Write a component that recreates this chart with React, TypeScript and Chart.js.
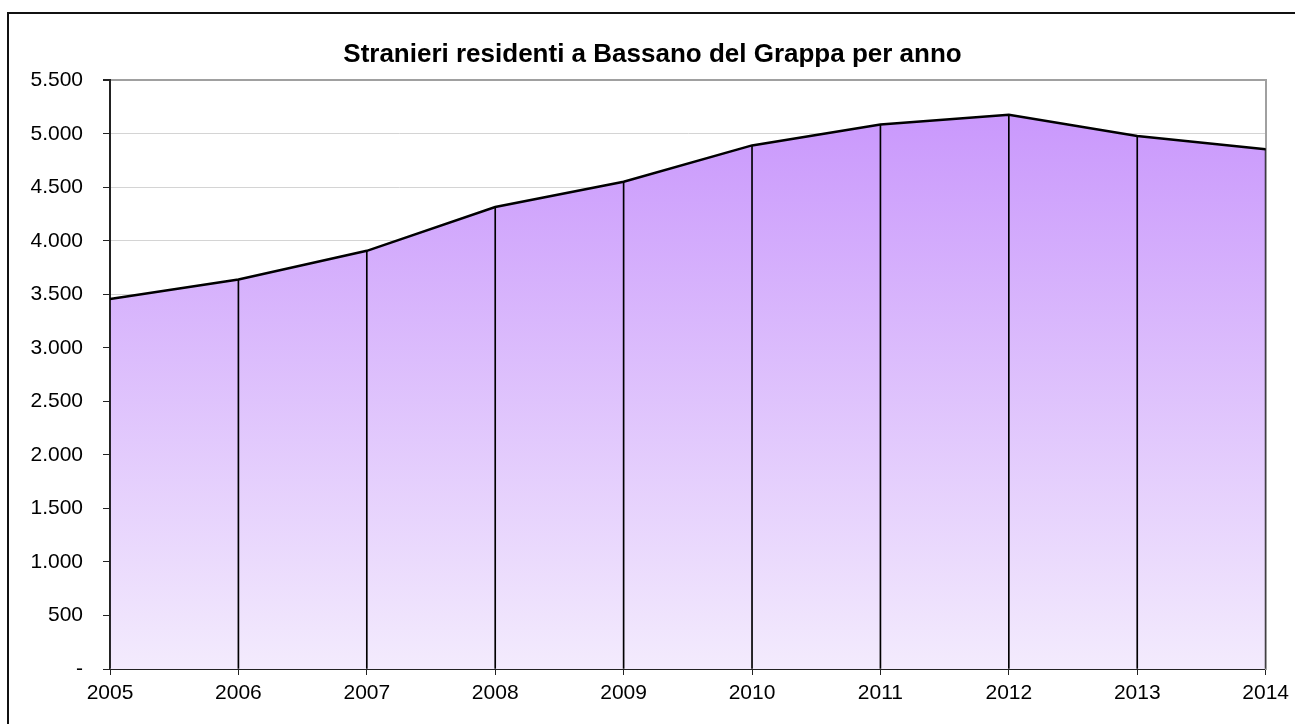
import React, { useEffect, useRef } from "react";
import { Chart, registerables } from "chart.js";

Chart.register(...registerables);

const years = ["2005", "2006", "2007", "2008", "2009", "2010", "2011", "2012", "2013", "2014"];
const residents = [3456, 3639, 3906, 4316, 4552, 4891, 5087, 5177, 4978, 4854];
const chartTitle = "Stranieri residenti a Bassano del Grappa per anno";
const yMax = 5500;
const yStep = 500;

function formatTick(v: number): string {
  if (v === 0) return "-";
  return Math.round(v).toString().replace(/\B(?=(\d{3})+(?!\d))/g, ".");
}

export default function App() {
  const ref = useRef<HTMLCanvasElement | null>(null);

  useEffect(() => {
    if (!ref.current) return;
    const font = "'Liberation Sans', Arial, sans-serif";
    const chart = new Chart(ref.current, {
      type: "line",
      data: {
        labels: years,
        datasets: [
          {
            type: "line",
            data: residents,
            borderColor: "#000000",
            borderWidth: 2.5,
            pointRadius: 0,
            tension: 0,
            order: 0,
            fill: "origin",
            backgroundColor: (ctx: any) => {
              const area = ctx.chart.chartArea;
              if (!area) return "#d4aaff";
              const g = ctx.chart.ctx.createLinearGradient(0, area.top, 0, area.bottom);
              g.addColorStop(0, "#c793fc");
              g.addColorStop(1, "#f3ebfd");
              return g;
            },
          },
          {
            type: "bar",
            data: residents,
            backgroundColor: "#000000",
            barThickness: 1,
            order: 1,
          } as any,
        ],
      },
      options: {
        animation: false,
        responsive: false,
        layout: { padding: { left: 10, right: 0, top: 0, bottom: 0 } },
        plugins: {
          legend: { display: false },
          tooltip: { enabled: false },
          filler: { drawTime: "beforeDatasetsDraw" } as any,
          title: {
            display: true,
            text: chartTitle,
            color: "#000000",
            font: { family: font, size: 26, weight: "bold" },
            padding: { top: 39, bottom: 10 },
          },
        },
        scales: {
          x: {
            type: "category",
            offset: false,
            grid: {
              display: true,
              offset: false,
              drawOnChartArea: false,
              drawTicks: true,
              tickLength: 6,
              tickColor: "#222222",
            },
            border: { display: true, color: "#222222", width: 2 },
            ticks: {
              color: "#000000",
              font: { family: font, size: 21 },
              padding: 6,
              maxRotation: 0,
              autoSkip: false,
            },
            afterFit: (s: any) => {
              s.height = 55;
            },
          },
          y: {
            min: 0,
            max: yMax,
            position: "left",
            grid: {
              color: (c: any) => (c.tick && c.tick.value === yMax ? "#a0a0a0" : "#d4d4d4"),
              lineWidth: (c: any) => (c.tick && c.tick.value === yMax ? 2 : 1),
              tickLength: 7,
              tickColor: "#222222",
            },
            border: { display: true, color: "#222222", width: 2 },
            ticks: {
              stepSize: yStep,
              color: "#000000",
              font: { family: font, size: 21 },
              padding: 20,
              callback: (v: any) => formatTick(Number(v)),
            },
            afterFit: (s: any) => {
              s.width = 100;
            },
          },
          y2: {
            min: 0,
            max: yMax,
            position: "right",
            grid: { drawOnChartArea: false, drawTicks: false },
            border: { display: true, color: "#a0a0a0", width: 2 },
            ticks: { display: false },
            afterFit: (s: any) => {
              s.width = 28;
            },
          },
        },
      },
    });
    return () => chart.destroy();
  }, []);

  return (
    <div style={{ position: "absolute", left: 0, top: 0, width: 1295, height: 724, overflow: "hidden", background: "#ffffff" }}>
      <canvas ref={ref} width={1295} height={724} style={{ position: "absolute", left: 0, top: 0 }} />
      <div
        style={{
          position: "absolute",
          left: 7,
          top: 12,
          width: 1300,
          height: 730,
          border: "2px solid #111111",
          boxSizing: "border-box",
          pointerEvents: "none",
        }}
      />
    </div>
  );
}
